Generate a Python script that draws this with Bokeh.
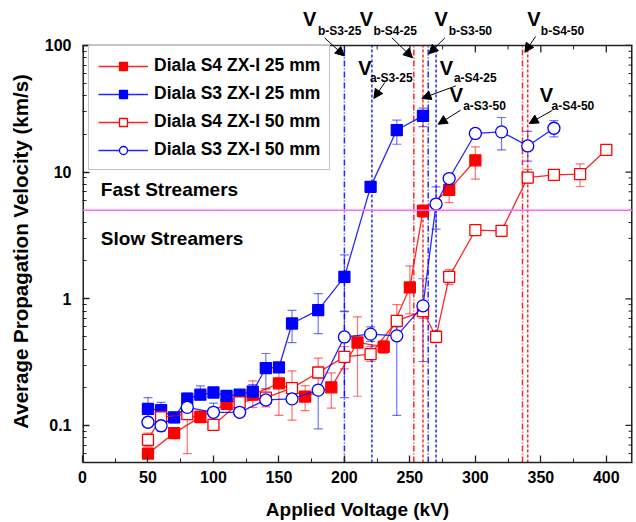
import numpy as np
from bokeh.plotting import figure
from bokeh.models import (Span, Label, Arrow, NormalHead, Legend,
                          LegendItem, Whisker, TeeHead, ColumnDataSource, FixedTicker,
                          CustomJSTickFormatter, Range1d)
from bokeh.embed import file_html
from bokeh.resources import INLINE

# ---------------- data ----------------
s4_25_kv = [50, 70, 90, 110, 130, 150, 170, 190, 210, 230, 250, 260, 280, 300]
s4_25_v = [0.060, 0.087, 0.117, 0.148, 0.175, 0.215, 0.169, 0.200, 0.452, 0.418, 1.23, 4.95, 7.25, 12.4]
s4_25_lo = [0.055, 0.080, 0.105, 0.134, 0.139, 0.120, 0.131, 0.137, 0.170, 0.370, 0.76, 4.40, 5.75, 8.8]
s4_25_hi = [0.065, 0.094, 0.130, 0.163, 0.225, 0.300, 0.206, 0.260, 0.720, 0.470, 1.82, 5.50, 8.80, 15.8]

s3_25_kv = [50, 60, 70, 80, 90, 100, 110, 120, 130, 140, 150, 160, 180, 200, 220, 240, 260]
s3_25_v = [0.135, 0.132, 0.116, 0.163, 0.175, 0.182, 0.171, 0.175, 0.185, 0.284, 0.287, 0.638, 0.814, 1.49, 7.65, 21.5, 27.8]
s3_25_lo = [0.111, 0.116, 0.105, 0.150, 0.165, 0.170, 0.160, 0.163, 0.170, 0.194, 0.270, 0.45, 0.53, 0.80, 7.2, 16.6, 22.9]
s3_25_hi = [0.166, 0.152, 0.124, 0.180, 0.205, 0.200, 0.182, 0.188, 0.210, 0.370, 0.300, 0.81, 1.10, 2.22, 8.1, 25.7, 32.0]

s4_50_kv = [50, 60, 80, 100, 120, 140, 160, 180, 200, 220, 240, 260, 270, 280, 300, 320, 340, 360, 380, 400]
s4_50_v = [0.077, 0.116, 0.123, 0.101, 0.152, 0.166, 0.197, 0.262, 0.348, 0.366, 0.67, 0.80, 0.50, 1.49, 3.48, 3.44, 9.06, 9.52, 9.63, 15.0]
s4_50_lo = [0.068, 0.100, 0.060, 0.092, 0.130, 0.140, 0.110, 0.200, 0.280, 0.320, 0.50, 0.70, 0.45, 1.30, 3.20, 3.20, 8.2, 9.0, 7.7, 15.0]
s4_50_hi = [0.087, 0.130, 0.178, 0.110, 0.175, 0.195, 0.270, 0.340, 0.420, 0.420, 0.90, 0.90, 0.56, 1.70, 3.80, 3.70, 10.5, 10.0, 11.6, 15.0]

s3_50_kv = [50, 60, 80, 100, 120, 140, 160, 180, 200, 220, 240, 260, 270, 280, 300, 320, 340, 360]
s3_50_v = [0.106, 0.0995, 0.139, 0.127, 0.127, 0.159, 0.162, 0.190, 0.50, 0.526, 0.51, 0.88, 5.6, 8.9, 20.2, 20.8, 16.1, 22.2]
s3_50_lo = [0.097, 0.090, 0.125, 0.105, 0.118, 0.150, 0.152, 0.094, 0.166, 0.46, 0.12, 0.32, 3.55, 8.3, 19.0, 15.0, 12.2, 19.0]
s3_50_hi = [0.116, 0.104, 0.155, 0.150, 0.136, 0.168, 0.172, 0.206, 0.79, 0.60, 0.60, 1.44, 7.65, 9.5, 21.5, 27.0, 21.0, 25.5]

series_names = ["Diala S4 ZX-I 25 mm", "Diala S3 ZX-I 25 mm", "Diala S4 ZX-I 50 mm", "Diala S3 ZX-I 50 mm"]

# breakdown / acceleration voltages (kV)
vline_names = ["b-S3-25", "a-S3-25", "b-S4-25", "a-S4-25", "b-S3-50", "a-S3-50", "b-S4-50", "a-S4-50"]
vline_kv = [200, 221, 253, 260, 264, 270, 336, 340]

threshold = 5.0  # km/s

x_ticks = [0, 50, 100, 150, 200, 250, 300, 350, 400]
y_ticks = [0.1, 1, 10, 100]

# annotation placement (kV, km/s): V letter, subscript (text centres), arrow tail, arrow head
ann_v_x = [168.3, 210.6, 211.8, 272.9, 268.8, 280.5, 339.7, 349.2]
ann_v_y = [160.4, 66.6, 160.4, 66.6, 160.4, 40.7, 160.4, 40.7]
ann_s_x = [179.8, 219.5, 222.2, 283.6, 279.6, 290.7, 350.0, 358.2]
ann_s_y = [129.9, 55.5, 129.9, 55.5, 129.9, 33.4, 129.9, 33.4]
arr_x0 = [184.9, 230.9, 236.3, 285.1, 276.7, 288.7, 346.0, 358.9]
arr_y0 = [114.8, 51.1, 114.8, 48.0, 114.8, 30.8, 117.8, 30.8]
arr_x1 = [200.0, 222.5, 252.0, 259.2, 264.5, 271.6, 337.8, 341.1]
arr_y1 = [82.7, 38.2, 80.0, 38.2, 85.9, 23.9, 88.3, 24.2]

# ---------------- figure ----------------
RED = "#ff0000"
BLUE = "#0000ff"
INK = "#222222"
FONT = "Liberation Sans"

X0, X1 = 0, 420          # axis box
Y0, Y1 = 0.051, 100      # axis box (log)
Y_TOP = 226.5            # headroom above the box for the V annotations

p = figure(width=636, height=522, x_range=Range1d(X0, X1), y_range=Range1d(Y0, Y_TOP),
           y_axis_type="log", output_backend="svg", toolbar_location=None,
           min_border_left=82, min_border_right=4, min_border_top=0, min_border_bottom=60)
p.xgrid.visible = False
p.ygrid.visible = False
p.outline_line_color = None
p.background_fill_color = "white"
p.border_fill_color = "white"

x_minor = [v for v in range(25, 420, 50)]
y_minor = [m * 10.0 ** e for e in (-2, -1, 0, 1) for m in range(2, 10) if Y0 <= m * 10.0 ** e < Y1]

for ax in (p.xaxis[0], p.yaxis[0]):
    ax.axis_line_color = INK
    ax.axis_line_width = 1.5
    ax.major_tick_in = 7
    ax.major_tick_out = 0
    ax.minor_tick_in = 4
    ax.minor_tick_out = 0
    ax.major_tick_line_color = INK
    ax.minor_tick_line_color = INK
    ax.major_tick_line_width = 1.3
    ax.minor_tick_line_width = 1.0
    ax.major_label_text_font = FONT
    ax.major_label_text_font_style = "bold"
    ax.major_label_text_font_size = "16px"
    ax.major_label_text_color = "black"
    ax.axis_label_text_font = FONT
    ax.axis_label_text_font_style = "bold"
    ax.axis_label_text_color = "black"

p.xaxis.axis_label_text_font_size = "19px"
p.yaxis.axis_label_text_font_size = "20.5px"
p.xaxis.ticker = FixedTicker(ticks=x_ticks, minor_ticks=x_minor)
p.yaxis.ticker = FixedTicker(ticks=y_ticks, minor_ticks=y_minor)
p.yaxis.formatter = CustomJSTickFormatter(code="return tick.toString();")
p.xaxis.axis_label = "Applied Voltage (kV)"
p.yaxis.axis_label = "Average Propagation Velocity (km/s)" + "\u00a0" * 7
p.xaxis.major_label_standoff = 8
p.xaxis.axis_label_standoff = 13
p.yaxis.major_label_standoff = 11
p.yaxis.axis_label_standoff = 10
p.yaxis.axis_line_color = None

# box: left, right, top edges (bottom edge is the x axis line)
p.segment(x0=[X0, X1, X0], y0=[Y0, Y0, Y1], x1=[X0, X1, X1], y1=[Y1, Y1, Y1],
          line_color=INK, line_width=[3, 3, 1.5])
# mirrored ticks (top and right), pointing inwards
tick_fac_major = 10 ** (7 / 126.66)
tick_fac_minor = 10 ** (4 / 126.66)
px_per_kv = 550 / (X1 - X0)
p.segment(x0=x_ticks, y0=[Y1] * len(x_ticks), x1=x_ticks, y1=[Y1 / tick_fac_major] * len(x_ticks),
          line_color=INK, line_width=1.3)
p.segment(x0=x_minor, y0=[Y1] * len(x_minor), x1=x_minor, y1=[Y1 / tick_fac_minor] * len(x_minor),
          line_color=INK, line_width=1.0)
p.segment(x0=[X1] * len(y_ticks), y0=y_ticks, x1=[X1 - 7 / px_per_kv] * len(y_ticks), y1=y_ticks,
          line_color=INK, line_width=1.3)
p.segment(x0=[X1] * len(y_minor), y0=y_minor, x1=[X1 - 4 / px_per_kv] * len(y_minor), y1=y_minor,
          line_color=INK, line_width=1.0)

# threshold line
p.add_layout(Span(location=threshold, dimension="width", line_color="#ff66ff", line_width=1.3))

# vertical lines (inside the box only)
for name, kv in zip(vline_names, vline_kv):
    col = BLUE if "S3" in name else RED
    dash = "6 2 1 2" if name.startswith("b") else "3 2"
    p.segment(x0=[kv], y0=[Y0], x1=[kv], y1=[Y1], line_color=col, line_width=1.5,
              line_dash=dash, line_alpha=0.85)

# series
specs = [
    (s4_25_kv, s4_25_v, s4_25_lo, s4_25_hi, RED, "square", RED),
    (s3_25_kv, s3_25_v, s3_25_lo, s3_25_hi, BLUE, "square", BLUE),
    (s4_50_kv, s4_50_v, s4_50_lo, s4_50_hi, RED, "square", "white"),
    (s3_50_kv, s3_50_v, s3_50_lo, s3_50_hi, BLUE, "circle", "white"),
]
legend_items = []
for name, (kv, v, lo, hi, col, mk, fill) in zip(series_names, specs):
    src = ColumnDataSource(dict(x=kv, y=v, lo=lo, hi=hi))
    p.add_layout(Whisker(source=src, base="x", lower="lo", upper="hi", dimension="height",
                         line_color=col, line_alpha=0.55, line_width=1.2,
                         upper_head=TeeHead(size=9, line_color=col, line_alpha=0.55, line_width=1.2),
                         lower_head=TeeHead(size=9, line_color=col, line_alpha=0.55, line_width=1.2)))
    r1 = p.line("x", "y", source=src, line_color=col, line_width=1.3, line_alpha=0.85)
    size = 12 if mk == "circle" else 11
    r2 = p.scatter("x", "y", source=src, marker=mk, size=size, line_color=col,
                   fill_color=fill, line_width=1.3)
    legend_items.append(LegendItem(label=name, renderers=[r1, r2]))

legend = Legend(items=legend_items, location=(6, 292), margin=0, padding=9,
                spacing=7, glyph_width=50, glyph_height=20, label_standoff=6,
                label_text_font=FONT, label_text_font_style="bold", label_text_font_size="17.5px",
                label_text_color="black", border_line_color="#888888", border_line_width=1.2,
                background_fill_color="white", background_fill_alpha=1.0)
p.add_layout(legend)

# region labels
p.add_layout(Label(x=14, y=7.25, text="Fast Streamers", text_font=FONT, text_font_style="bold",
                   text_font_size="19px", text_color="black", text_baseline="middle"))
p.add_layout(Label(x=14, y=2.975, text="Slow Streamers", text_font=FONT, text_font_style="bold",
                   text_font_size="19px", text_color="black", text_baseline="middle"))

# V annotations
for i, name in enumerate(vline_names):
    p.add_layout(Label(x=ann_v_x[i], y=ann_v_y[i], text="V", text_font=FONT, text_font_style="bold",
                       text_font_size="20px", text_color="black", text_baseline="middle"))
    p.add_layout(Label(x=ann_s_x[i], y=ann_s_y[i], text=name, text_font=FONT, text_font_style="bold",
                       text_font_size="12px", text_color="black", text_baseline="middle"))
    p.add_layout(Arrow(x_start=arr_x0[i], y_start=arr_y0[i], x_end=arr_x1[i], y_end=arr_y1[i],
                       line_color="black", line_width=1.0,
                       end=NormalHead(size=9, fill_color="black", line_color="black")))

open("out.html", "w").write(file_html(p, INLINE))
